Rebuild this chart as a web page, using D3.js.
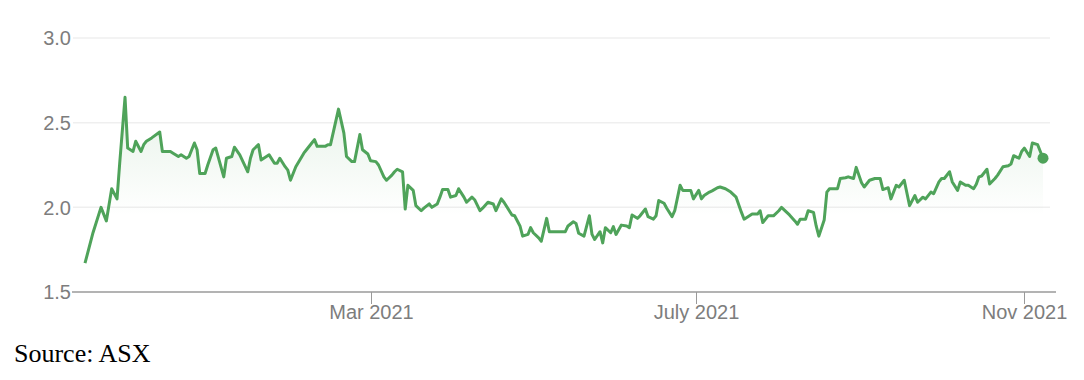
<!DOCTYPE html>
<html>
<head>
<meta charset="utf-8">
<script src="https://cdn.jsdelivr.net/npm/d3@7"></script>
<style>
  html, body { margin: 0; padding: 0; background: #ffffff; }
  svg { display: block; }
</style>
</head>
<body>
<svg id="chart" width="1084" height="380"></svg>
<script>
// ---- Data ----
const dates = [
  "2020-11-14","2020-11-17","2020-11-20","2020-11-22","2020-11-24","2020-11-26","2020-11-27","2020-11-29","2020-11-30",
  "2020-12-02","2020-12-03","2020-12-05","2020-12-06","2020-12-07","2020-12-09","2020-12-12","2020-12-13","2020-12-16",
  "2020-12-17","2020-12-19","2020-12-20","2020-12-22","2020-12-23","2020-12-25","2020-12-26","2020-12-27","2020-12-29",
  "2020-12-30","2021-01-01","2021-01-02","2021-01-05","2021-01-06","2021-01-08","2021-01-09","2021-01-11","2021-01-14",
  "2021-01-15","2021-01-16","2021-01-18","2021-01-19","2021-01-22","2021-01-24","2021-01-25","2021-01-26","2021-01-28",
  "2021-01-29","2021-01-30","2021-02-01","2021-02-04","2021-02-05","2021-02-07","2021-02-08","2021-02-09","2021-02-12",
  "2021-02-13","2021-02-14","2021-02-17","2021-02-19","2021-02-20","2021-02-22","2021-02-23","2021-02-25","2021-02-26",
  "2021-02-28","2021-03-01","2021-03-03","2021-03-04","2021-03-06","2021-03-07","2021-03-09","2021-03-10","2021-03-11",
  "2021-03-13","2021-03-14","2021-03-15","2021-03-17","2021-03-18","2021-03-20","2021-03-21","2021-03-23","2021-03-24",
  "2021-03-26","2021-03-27","2021-03-28","2021-03-30","2021-03-31","2021-04-02","2021-04-03","2021-04-05","2021-04-06",
  "2021-04-08","2021-04-09","2021-04-11","2021-04-12","2021-04-14","2021-04-16","2021-04-17","2021-04-19","2021-04-20",
  "2021-04-22","2021-04-23","2021-04-24","2021-04-26","2021-04-27","2021-04-29","2021-04-30","2021-05-01","2021-05-03",
  "2021-05-04","2021-05-06","2021-05-07","2021-05-13","2021-05-14","2021-05-16","2021-05-17","2021-05-18","2021-05-20",
  "2021-05-22","2021-05-23","2021-05-24","2021-05-26","2021-05-27","2021-05-28","2021-05-30","2021-05-31","2021-06-01",
  "2021-06-03","2021-06-05","2021-06-06","2021-06-07","2021-06-09","2021-06-10","2021-06-12","2021-06-13","2021-06-15",
  "2021-06-16","2021-06-17","2021-06-19","2021-06-20","2021-06-22","2021-06-23","2021-06-25","2021-06-26","2021-06-29",
  "2021-06-30","2021-07-02","2021-07-03","2021-07-04","2021-07-06","2021-07-07","2021-07-09","2021-07-10","2021-07-12",
  "2021-07-14","2021-07-16","2021-07-18","2021-07-19","2021-07-21","2021-07-22","2021-07-24","2021-07-25","2021-07-26",
  "2021-07-28","2021-07-30","2021-08-01","2021-08-02","2021-08-04","2021-08-05","2021-08-07","2021-08-08","2021-08-09",
  "2021-08-11","2021-08-12","2021-08-14","2021-08-15","2021-08-16","2021-08-18","2021-08-19","2021-08-20","2021-08-23",
  "2021-08-24","2021-08-26","2021-08-27","2021-08-29","2021-08-30","2021-09-01","2021-09-02","2021-09-04","2021-09-06",
  "2021-09-08","2021-09-09","2021-09-11","2021-09-12","2021-09-14","2021-09-15","2021-09-17","2021-09-19","2021-09-21",
  "2021-09-22","2021-09-24","2021-09-25","2021-09-27","2021-09-28","2021-09-30","2021-10-01","2021-10-02","2021-10-04",
  "2021-10-05","2021-10-07","2021-10-08","2021-10-10","2021-10-11","2021-10-13","2021-10-14","2021-10-15","2021-10-16",
  "2021-10-18","2021-10-19","2021-10-21","2021-10-22","2021-10-24","2021-10-26","2021-10-27","2021-10-28","2021-10-30",
  "2021-10-31","2021-11-01","2021-11-03","2021-11-04","2021-11-06","2021-11-08"
];
const prices = [
  1.67,1.85,2.00,1.92,2.11,2.05,2.26,2.65,2.35,
  2.33,2.39,2.33,2.37,2.39,2.41,2.445,2.33,2.33,
  2.32,2.30,2.31,2.29,2.30,2.38,2.34,2.20,2.20,
  2.25,2.34,2.35,2.18,2.29,2.30,2.355,2.31,2.21,
  2.29,2.34,2.37,2.28,2.31,2.26,2.26,2.29,2.24,
  2.22,2.16,2.24,2.32,2.34,2.38,2.40,2.36,2.36,
  2.37,2.37,2.58,2.44,2.30,2.27,2.27,2.43,2.34,
  2.315,2.275,2.27,2.25,2.18,2.16,2.19,2.21,2.225,
  2.21,1.99,2.13,2.10,2.01,1.98,1.995,2.02,2.00,
  2.02,2.06,2.105,2.105,2.06,2.07,2.11,2.06,2.03,
  2.06,2.045,1.98,1.995,2.03,2.02,1.98,2.05,2.03,
  1.98,1.955,1.95,1.89,1.83,1.84,1.88,1.85,1.82,
  1.80,1.935,1.856,1.856,1.89,1.915,1.905,1.847,1.83,
  1.95,1.84,1.81,1.856,1.79,1.88,1.85,1.886,1.84,
  1.895,1.89,1.88,1.955,1.935,1.95,1.99,1.945,1.93,
  1.95,2.04,2.024,1.995,1.945,1.98,2.13,2.10,2.10,
  2.05,2.10,2.05,2.07,2.09,2.097,2.116,2.12,2.11,
  2.09,2.06,1.97,1.93,1.95,1.96,1.96,1.98,1.91,
  1.95,1.95,1.98,2.00,1.97,1.955,1.92,1.90,1.93,
  1.93,1.98,1.97,1.89,1.83,1.925,2.09,2.11,2.11,
  2.17,2.175,2.18,2.17,2.236,2.145,2.12,2.16,2.17,
  2.17,2.105,2.116,2.05,2.13,2.12,2.16,2.01,2.07,
  2.03,2.06,2.05,2.09,2.08,2.15,2.17,2.17,2.21,
  2.15,2.10,2.15,2.13,2.13,2.11,2.136,2.18,2.185,
  2.225,2.138,2.17,2.19,2.24,2.246,2.256,2.305,2.29,
  2.33,2.35,2.30,2.38,2.37,2.29
];
const yTicks = [1.5, 2.0, 2.5, 3.0];
const yTickLabels = ["1.5", "2.0", "2.5", "3.0"];
const xTickDates = ["2021-03-01", "2021-07-01", "2021-11-01"];
const xTickLabels = ["Mar 2021", "July 2021", "Nov 2021"];
const sourceText = "Source: ASX";

// ---- Chart ----
const parse = d3.utcParse("%Y-%m-%d");
const data = dates.map((d, i) => ({ date: parse(d), value: prices[i] }));

const svg = d3.select("#chart");
const green = "#4fa35a";
const labelGray = "#7d7d7d";
const plotLeft = 72, plotRight = 1056, gridRight = 1050;

const x = d3.scaleUtc()
  .domain(d3.extent(data, d => d.date))
  .range([85, 1043]);
const y = d3.scaleLinear()
  .domain([1.5, 3.0])
  .range([292, 38]);

// gradient for area
const defs = svg.append("defs");
const grad = defs.append("linearGradient")
  .attr("id", "areaGrad")
  .attr("gradientUnits", "userSpaceOnUse")
  .attr("x1", 0).attr("x2", 0)
  .attr("y1", y(2.65)).attr("y2", y(1.95));
grad.append("stop").attr("offset", "0%").attr("stop-color", green).attr("stop-opacity", 0.14);
grad.append("stop").attr("offset", "100%").attr("stop-color", green).attr("stop-opacity", 0.0);

// gridlines
svg.append("g")
  .selectAll("line")
  .data(yTicks.filter(t => t > 1.5))
  .join("line")
  .attr("x1", plotLeft + 1).attr("x2", gridRight)
  .attr("y1", d => y(d)).attr("y2", d => y(d))
  .attr("stroke", "#efefef")
  .attr("stroke-width", 1.5);

// y labels
svg.append("g")
  .selectAll("text")
  .data(yTicks)
  .join("text")
  .attr("x", 71)
  .attr("y", d => y(d))
  .attr("dy", "0.36em")
  .attr("text-anchor", "end")
  .attr("fill", labelGray)
  .style("font-family", "'Liberation Sans', Arial, sans-serif")
  .style("font-size", "20px")
  .text((d, i) => yTickLabels[i]);

// area
const area = d3.area()
  .x(d => x(d.date))
  .y0(y(1.5))
  .y1(d => y(d.value));
svg.append("path")
  .datum(data)
  .attr("d", area)
  .attr("fill", "url(#areaGrad)");

// x axis line
svg.append("line")
  .attr("x1", plotLeft).attr("x2", plotRight)
  .attr("y1", y(1.5)).attr("y2", y(1.5))
  .attr("stroke", "#9a9a9a")
  .attr("stroke-width", 1.5);

// x ticks
const xt = svg.append("g")
  .selectAll("g")
  .data(xTickDates.map(parse))
  .join("g")
  .attr("transform", d => `translate(${Math.round(x(d)) + 0.5},0)`);
xt.append("line")
  .attr("y1", y(1.5)).attr("y2", y(1.5) + 12)
  .attr("stroke", "#9a9a9a")
  .attr("stroke-width", 1);
xt.append("text")
  .attr("y", y(1.5) + 27)
  .attr("text-anchor", "middle")
  .attr("fill", labelGray)
  .style("font-family", "'Liberation Sans', Arial, sans-serif")
  .style("font-size", "20px")
  .text((d, i) => xTickLabels[i]);

// line
const line = d3.line()
  .x(d => x(d.date))
  .y(d => y(d.value));
svg.append("path")
  .datum(data)
  .attr("d", line)
  .attr("fill", "none")
  .attr("stroke", green)
  .attr("stroke-width", 3)
  .attr("stroke-linejoin", "round");

// end dot
const last = data[data.length - 1];
svg.append("circle")
  .attr("cx", x(last.date))
  .attr("cy", y(last.value))
  .attr("r", 5.5)
  .attr("fill", green);

// source
svg.append("text")
  .attr("x", 14)
  .attr("y", 362)
  .attr("fill", "#000")
  .style("font-family", "'Liberation Serif', 'Times New Roman', serif")
  .style("font-size", "26px")
  .text(sourceText);
</script>
</body>
</html>
